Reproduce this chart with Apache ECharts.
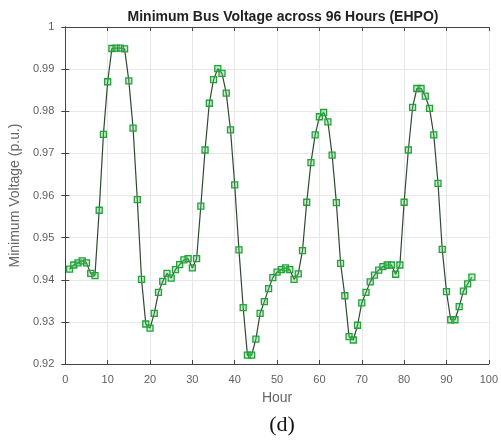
<!DOCTYPE html>
<html>
<head>
<meta charset="utf-8">
<script src="https://cdn.jsdelivr.net/npm/echarts@6/dist/echarts.min.js"></script>
<style>
  html, body { margin: 0; padding: 0; background: #fff; }
  #chart { width: 501px; height: 448px; }
</style>
</head>
<body>
<div id="chart"></div>
<script>
// hour 1..96
var hours = [];
for (var h = 1; h <= 96; h++) hours.push(h);

var voltage = [
  0.9425, 0.9435, 0.9440, 0.9445, 0.9440, 0.9415, 0.9410, 0.9565, 0.9745, 0.9870,
  0.9949, 0.9950, 0.9950, 0.9948, 0.9872, 0.9760, 0.9590, 0.9401, 0.9295, 0.9285,
  0.9320, 0.9370, 0.9396, 0.9415, 0.9404, 0.9424, 0.9436, 0.9447, 0.9450, 0.9428,
  0.9450, 0.9575, 0.9708, 0.9819, 0.9875, 0.9901, 0.9890, 0.9843, 0.9756, 0.9625,
  0.9471, 0.9334, 0.9221, 0.9221, 0.9259, 0.9320, 0.9348, 0.9379, 0.9405, 0.9418,
  0.9424, 0.9428, 0.9424, 0.9401, 0.9414, 0.9469, 0.9584, 0.9678, 0.9744, 0.9787,
  0.9797, 0.9775, 0.9696, 0.9583, 0.9439, 0.9362, 0.9265, 0.9257, 0.9292, 0.9345,
  0.9370, 0.9395, 0.9411, 0.9423, 0.9431, 0.9435, 0.9435, 0.9413, 0.9435, 0.9584,
  0.9708, 0.9809, 0.9854, 0.9854, 0.9836, 0.9807, 0.9744, 0.9629, 0.9472, 0.9372,
  0.9305, 0.9305, 0.9336, 0.9373, 0.9390, 0.9406
];

var titleText = 'Minimum Bus Voltage across 96 Hours (EHPO)';
var xName = 'Hour';
var yName = 'Minimum Voltage (p.u.)';

var points = hours.map(function (h, i) { return [h, voltage[i]]; });

var myChart = echarts.init(document.getElementById('chart'));

var axisFont = { fontFamily: 'Liberation Sans', fontSize: 11, color: '#5e5e5e' };
var nameFont = { fontFamily: 'Liberation Sans', fontSize: 14, color: '#666' };
var frameLine = { show: true, lineStyle: { color: '#444', width: 1 } };
var tickIn = { show: true, inside: true, length: 4, lineStyle: { color: '#444' } };

var option = {
  animation: false,
  title: {
    text: titleText,
    left: 278,
    textAlign: 'center',
    top: 5,
    textStyle: { fontFamily: 'Liberation Sans', fontSize: 14, fontWeight: 'bold', color: '#222' }
  },
  grid: { left: 63, right: 9, top: 27, bottom: 84 },
  xAxis: [
    {
      type: 'value',
      min: 0, max: 100, interval: 10,
      name: xName,
      nameLocation: 'middle',
      nameGap: 27,
      nameTextStyle: nameFont,
      axisLine: frameLine,
      axisTick: tickIn,
      axisLabel: Object.assign({ margin: 10 }, axisFont),
      splitLine: { show: true, lineStyle: { color: '#e8e8e8' } }
    },
    {
      type: 'value',
      position: 'top',
      min: 0, max: 100, interval: 10,
      axisLine: frameLine,
      axisTick: tickIn,
      axisLabel: { show: false },
      splitLine: { show: false }
    }
  ],
  yAxis: [
    {
      type: 'value',
      min: 0.92, max: 1, interval: 0.01,
      name: yName,
      nameLocation: 'middle',
      nameGap: 34,
      nameTextStyle: nameFont,
      axisLine: frameLine,
      axisTick: tickIn,
      axisLabel: Object.assign({
        margin: 11,
        formatter: function (v) { return String(+v.toFixed(2)); }
      }, axisFont),
      splitLine: { show: true, lineStyle: { color: '#e8e8e8' } }
    },
    {
      type: 'value',
      position: 'right',
      min: 0.92, max: 1, interval: 0.01,
      axisLine: frameLine,
      axisTick: tickIn,
      axisLabel: { show: false },
      splitLine: { show: false }
    }
  ],
  graphic: [
    {
      type: 'text',
      x: 282,
      y: 414,
      style: { text: '(d)', font: '22px "Liberation Serif"', fill: '#111', textAlign: 'center' }
    }
  ],
  series: [
    {
      type: 'line',
      data: points,
      symbol: 'rect',
      symbolSize: 6,
      lineStyle: { color: '#2e4a30', width: 1.2 },
      itemStyle: { color: 'rgba(90,200,100,0.35)', borderColor: '#23a23c', borderWidth: 1.3 }
    }
  ]
};

myChart.setOption(option);
</script>
</body>
</html>
